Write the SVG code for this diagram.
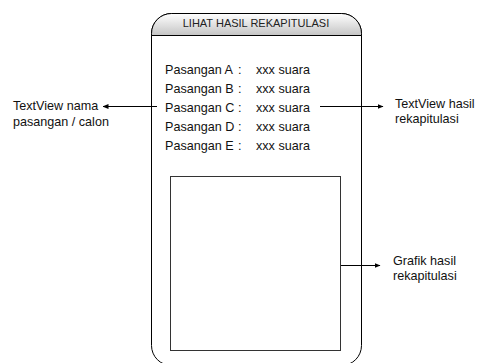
<svg xmlns="http://www.w3.org/2000/svg" width="481" height="363" viewBox="0 0 481 363">
<style>
text{font-family:"Liberation Sans",Arial,sans-serif;fill:#111}
.lbl{font-size:12.6px}
.hdr{font-size:11px;fill:#222}
.ln{stroke:#000;stroke-width:1;fill:none}
</style>
<defs>
<linearGradient id="hg" x1="0" y1="0" x2="0" y2="1">
<stop offset="0" stop-color="#ffffff"/>
<stop offset="1" stop-color="#c4c4c4"/>
</linearGradient>
<marker id="ah" markerWidth="6" markerHeight="5" refX="5.5" refY="2.5" orient="auto" markerUnits="userSpaceOnUse">
<path d="M0,0 L6,2.5 L0,5 Z" fill="#000"/>
</marker>
</defs>
<rect width="481" height="363" fill="#fff"/>
<g id="phone">
<rect x="151.5" y="13.5" width="210" height="352" rx="20" ry="20" fill="#fff" class="ln"/>
<path d="M151.5,35.5 L151.5,33.5 A20,20 0 0 1 171.5,13.5 L341.5,13.5 A20,20 0 0 1 361.5,33.5 L361.5,35.5 Z" fill="url(#hg)" stroke="#000" stroke-width="1"/>
<text class="hdr" x="256" y="27" text-anchor="middle">LIHAT HASIL REKAPITULASI</text>
</g>
<g id="list">
<text class="lbl" x="165" y="74">Pasangan A</text><text class="lbl" x="238" y="74">:</text>
<text class="lbl" x="256" y="74">xxx suara</text>
<text class="lbl" x="165" y="93">Pasangan B</text><text class="lbl" x="238" y="93">:</text>
<text class="lbl" x="256" y="93">xxx suara</text>
<text class="lbl" x="165" y="112">Pasangan C</text><text class="lbl" x="238" y="112">:</text>
<text class="lbl" x="256" y="112">xxx suara</text>
<text class="lbl" x="165" y="131">Pasangan D</text><text class="lbl" x="238" y="131">:</text>
<text class="lbl" x="256" y="131">xxx suara</text>
<text class="lbl" x="165" y="150">Pasangan E</text><text class="lbl" x="238" y="150">:</text>
<text class="lbl" x="256" y="150">xxx suara</text>
</g>
<g id="chart">
<rect x="170.5" y="176.5" width="170" height="174" fill="none" stroke="#333" stroke-width="1"/>
</g>
<g id="label-nama">
<text class="lbl" x="13" y="110">TextView nama</text>
<text class="lbl" x="13" y="126">pasangan / calon</text>
</g>
<g id="label-hasil">
<text class="lbl" x="395" y="108">TextView hasil</text>
<text class="lbl" x="395" y="123">rekapitulasi</text>
</g>
<g id="label-grafik">
<text class="lbl" x="393" y="265">Grafik hasil</text>
<text class="lbl" x="393" y="280">rekapitulasi</text>
</g>
<g id="connectors">
<line class="ln" x1="157" y1="106.5" x2="103" y2="106.5" marker-end="url(#ah)"/>
<line class="ln" x1="320" y1="106.5" x2="383" y2="106.5" marker-end="url(#ah)"/>
<line class="ln" x1="341" y1="265.5" x2="380" y2="265.5" marker-end="url(#ah)"/>
</g>
</svg>
